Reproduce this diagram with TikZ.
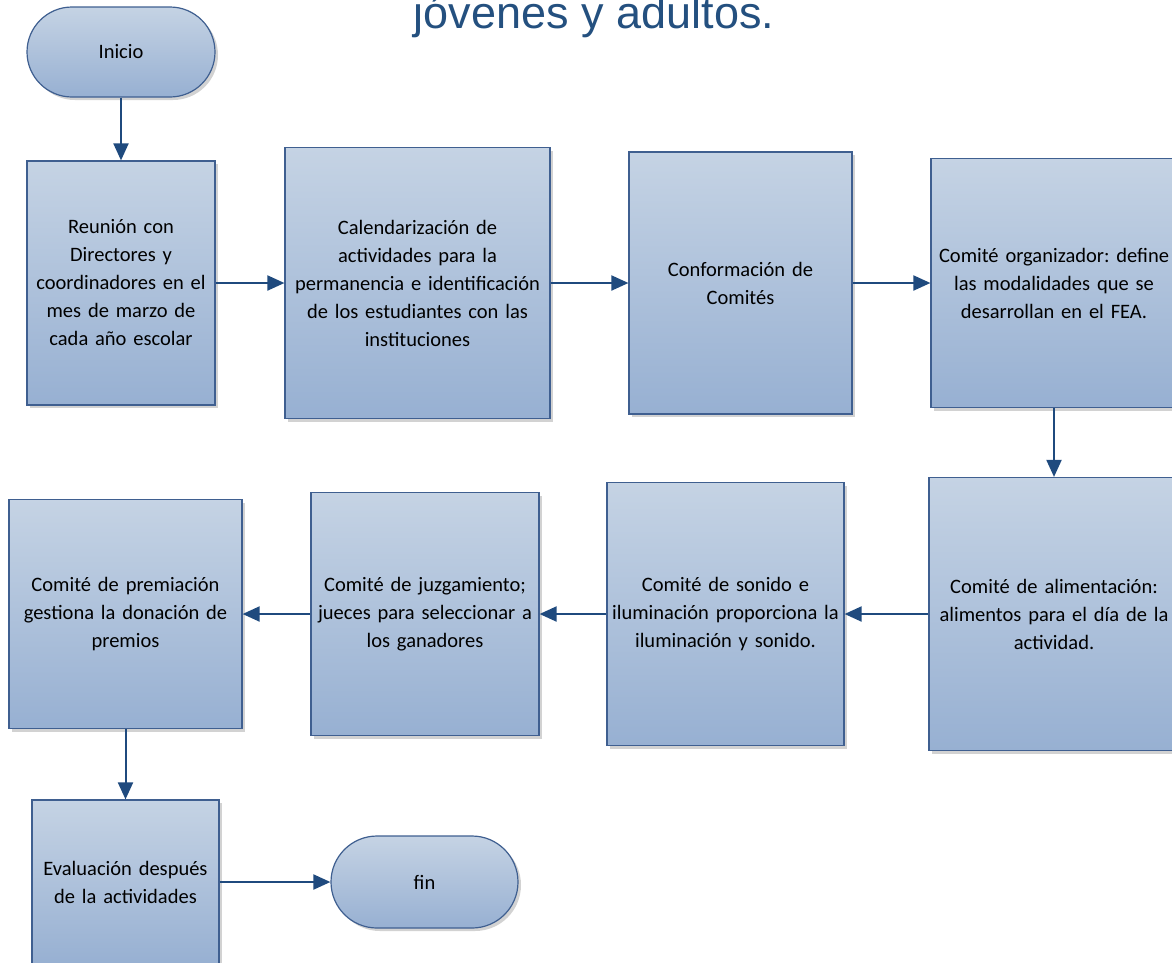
\documentclass[tikz,border=0pt]{standalone}
\usepackage{fontspec}
\setmainfont{Carlito}
\newfontfamily\titlefont{Liberation Sans}
\usetikzlibrary{shapes.misc,shadows,arrows.meta}
\definecolor{boxtop}{HTML}{C5D3E4}
\definecolor{boxbot}{HTML}{97B0D2}
\definecolor{boxline}{HTML}{3F5F90}
\definecolor{arrowc}{HTML}{1F4A7E}
\definecolor{titlec}{HTML}{24507F}
\tikzset{
  procbox/.style={rectangle, draw=boxline, line width=1.2pt, top color=boxtop, bottom color=boxbot,
    drop shadow={shadow xshift=3pt, shadow yshift=-3pt, fill=black!35},
    inner sep=0pt, align=center, font=\frenchspacing\fontsize{20.5}{28}\selectfont},
  termbox/.style={rounded rectangle, draw=boxline, line width=1.2pt, top color=boxtop, bottom color=boxbot,
    drop shadow={shadow xshift=3pt, shadow yshift=-3pt, fill=black!35},
    inner sep=0pt, align=center, font=\fontsize{20.5}{28}\selectfont},
  flow/.style={draw=arrowc, line width=2pt, -{Triangle[length=17pt,width=15pt]}}
}
\begin{document}
\begin{tikzpicture}[x=1pt,y=-1pt]
\useasboundingbox (0,0) rectangle (1172,962);
\node[font=\titlefont\fontsize{45}{50}\selectfont, text=titlec, anchor=base] (title) at (594,28) {jóvenes y adultos.};

\node[termbox, minimum width=188pt, minimum height=90pt] (inicio) at (121,52) {Inicio};
\node[procbox, minimum width=188pt, minimum height=244pt, text width=186pt] (b1) at (121,283)
  {Reunión con\\Directores y\\coordinadores en el\\mes de marzo de\\cada año escolar};
\node[procbox, minimum width=265pt, minimum height=271pt, text width=261pt] (b2) at (417.5,283)
  {Calendarización de\\actividades para la\\permanencia e identificación\\de los estudiantes con las\\instituciones};
\node[procbox, minimum width=223pt, minimum height=262pt, text width=219pt] (b3) at (740.5,283)
  {Conformación de\\Comités};
\node[procbox, minimum width=246pt, minimum height=249pt, text width=246pt] (b4) at (1054,283)
  {Comité organizador: define\\las modalidades que se\\desarrollan en el FEA.};
\node[procbox, minimum width=250pt, minimum height=273pt, text width=246pt] (b5) at (1054,614)
  {Comité de alimentación:\\alimentos para el día de la\\actividad.};
\node[procbox, minimum width=237pt, minimum height=263pt, text width=235pt] (b6) at (725.5,614)
  {Comité de sonido e\\iluminación proporciona la\\iluminación y sonido.};
\node[procbox, minimum width=228pt, minimum height=243pt, text width=226pt] (b7) at (425,614)
  {Comité de juzgamiento;\\jueces para seleccionar a\\los ganadores};
\node[procbox, minimum width=233pt, minimum height=229pt, text width=229pt] (b8) at (125.5,614)
  {Comité de premiación\\gestiona la donación de\\premios};
\node[procbox, minimum width=187pt, minimum height=164pt, text width=185pt] (b9) at (125.5,882)
  {Evaluación después\\de la actividades};
\node[termbox, minimum width=187pt, minimum height=92pt] (fin) at (424.5,882) {fin};

\draw[flow] (inicio.south) -- (b1.north);
\draw[flow] (b1.east) -- (b2.west);
\draw[flow] (b2.east) -- (b3.west);
\draw[flow] (b3.east) -- (b4.west);
\draw[flow] (b4.south) -- (b5.north);
\draw[flow] (b5.west) -- (b6.east);
\draw[flow] (b6.west) -- (b7.east);
\draw[flow] (b7.west) -- (b8.east);
\draw[flow] (b8.south) -- (b9.north);
\draw[flow] (b9.east) -- (fin.west);
\end{tikzpicture}
\end{document}
